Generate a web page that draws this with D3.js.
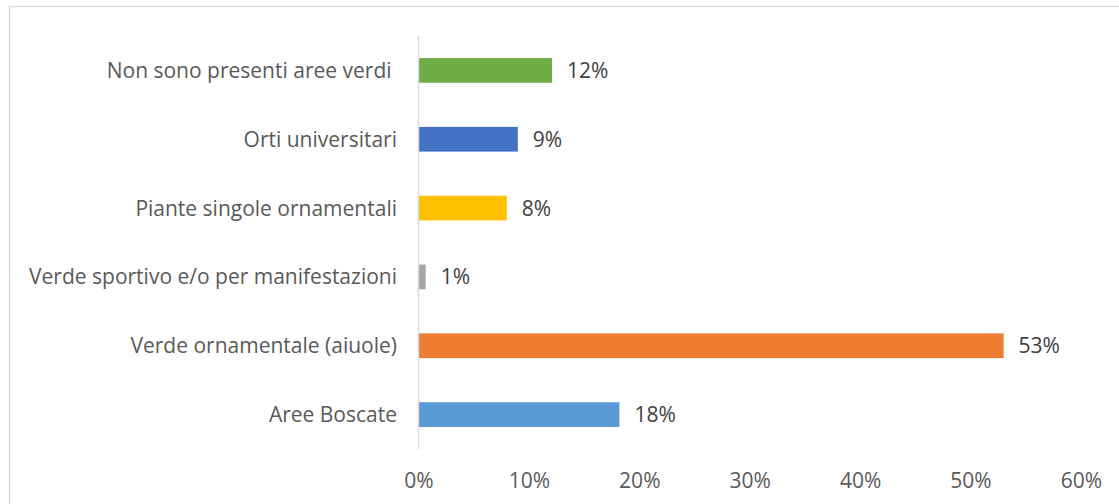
<!DOCTYPE html>
<html><head><meta charset="utf-8">
<script src="https://cdn.jsdelivr.net/npm/d3@7"></script>
<style>html,body{margin:0;padding:0;background:#fff;overflow:hidden}</style>
</head><body>
<script>
const categories = ["Non sono presenti aree verdi ", "Orti universitari", "Piante singole ornamentali", "Verde sportivo e/o per manifestazioni", "Verde ornamentale (aiuole)", "Aree Boscate"];
const values = [0.121, 0.09, 0.08, 0.0065, 0.53, 0.182];
const colors = ["#70AD47", "#4472C4", "#FFC000", "#A5A5A5", "#ED7D31", "#5B9BD5"];
const tickValues = [0, 0.1, 0.2, 0.3, 0.4, 0.5, 0.6];

const W = 1119, H = 504;
const svg = d3.select("body").append("svg").attr("width", W).attr("height", H);
const font = "'Open Sans', sans-serif";
const fs = 21;

svg.append("rect").attr("x", 9.5).attr("y", 6.5).attr("width", W + 20).attr("height", H + 20)
  .attr("fill", "#fff").attr("stroke", "#d9d9d9").attr("stroke-width", 1.5);

const x = d3.scaleLinear().domain([0, 0.6]).range([418.5, 1080.9]);
const y = d3.scaleBand().domain(categories).range([36, 449]).paddingInner(0.641).paddingOuter(0.3205);

svg.selectAll("rect.bar").data(categories).enter().append("rect").attr("class", "bar")
  .attr("x", x(0)).attr("y", d => y(d)).attr("height", y.bandwidth())
  .attr("width", (d, i) => x(values[i]) - x(0)).attr("fill", (d, i) => colors[i]);

svg.append("line").attr("x1", x(0)).attr("x2", x(0)).attr("y1", 36).attr("y2", 449)
  .attr("stroke", "#d9d9d9").attr("stroke-width", 1.5);

// category labels
svg.selectAll("text.cat").data(categories).enter().append("text").attr("class", "cat")
  .attr("x", 397).attr("y", d => y(d) + y.bandwidth() / 2)
  .attr("dy", "0.36em").attr("text-anchor", "end")
  .style("white-space", "pre")
  .attr("font-family", font).attr("font-size", fs).attr("fill", "#595959")
  .text(d => d);

// value labels
const fmt = d3.format(".0%");
svg.selectAll("text.val").data(categories).enter().append("text").attr("class", "val")
  .attr("x", (d, i) => x(values[i]) + 15).attr("y", d => y(d) + y.bandwidth() / 2)
  .attr("dy", "0.36em")
  .attr("font-family", font).attr("font-size", fs).attr("fill", "#404040")
  .text((d, i) => fmt(values[i]));

// x axis tick labels
const axis = d3.axisBottom(x).tickValues(tickValues).tickFormat(d3.format(".0%")).tickSize(0).tickPadding(0);
const g = svg.append("g").attr("transform", "translate(0,480)").call(axis);
g.select(".domain").remove();
g.selectAll("text").attr("font-family", font).attr("font-size", fs).attr("fill", "#595959").attr("dy", "0.36em").attr("y", 0);
</script>
</body></html>
